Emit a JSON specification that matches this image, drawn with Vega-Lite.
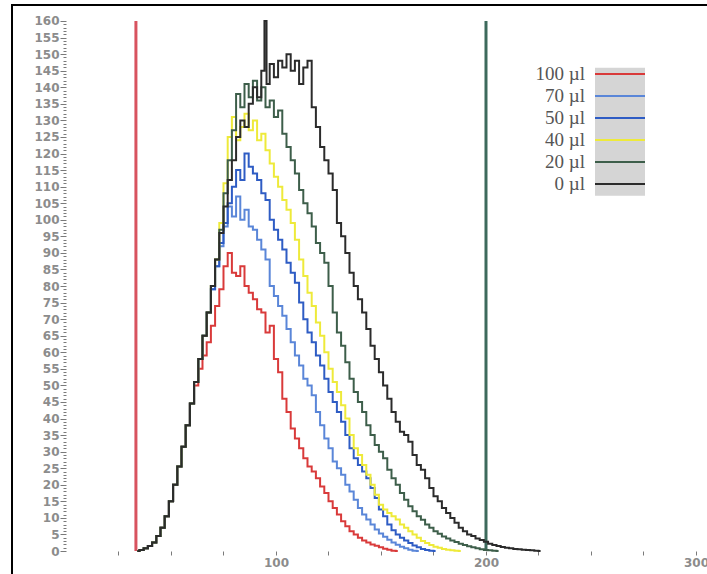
{
  "$schema": "https://vega.github.io/schema/vega-lite/v6.json",
  "width": 695,
  "height": 569,
  "autosize": {"type": "none"},
  "padding": {"left": 12, "top": 5, "right": 0, "bottom": 0},
  "background": "white",
  "config": {
    "view": {"stroke": "black", "strokeWidth": 2, "strokeDash": [695, 1264, 569]},
    "axis": {
      "labelFont": "DejaVu Sans",
      "labelFontWeight": "bold",
      "labelFontSize": 12,
      "labelColor": "#8c8c8c",
      "tickColor": "#7a7a7a",
      "domain": false,
      "grid": false
    }
  },
  "datasets": {
    "curves": [
      {"x": 34, "100 µl": 0, "70 µl": 0, "50 µl": 0, "40 µl": 0, "20 µl": 0, "0 µl": 0},
      {"x": 36, "100 µl": 0.3, "70 µl": 0.3, "50 µl": 0.3, "40 µl": 0.3, "20 µl": 0.3, "0 µl": 0.3},
      {"x": 38, "100 µl": 0.8, "70 µl": 0.8, "50 µl": 0.8, "40 µl": 0.8, "20 µl": 0.8, "0 µl": 0.8},
      {"x": 40, "100 µl": 1.5, "70 µl": 1.5, "50 µl": 1.5, "40 µl": 1.5, "20 µl": 1.5, "0 µl": 1.5},
      {"x": 42, "100 µl": 2.6, "70 µl": 2.6, "50 µl": 2.6, "40 µl": 2.6, "20 µl": 2.6, "0 µl": 2.6},
      {"x": 44, "100 µl": 4.5, "70 µl": 4.5, "50 µl": 4.5, "40 µl": 4.5, "20 µl": 4.5, "0 µl": 4.5},
      {"x": 46, "100 µl": 7, "70 µl": 7, "50 µl": 7, "40 µl": 7, "20 µl": 7, "0 µl": 7},
      {"x": 48, "100 µl": 10.5, "70 µl": 10.5, "50 µl": 10.5, "40 µl": 10.5, "20 µl": 10.5, "0 µl": 10.5},
      {"x": 50, "100 µl": 15, "70 µl": 15, "50 µl": 15, "40 µl": 15, "20 µl": 15, "0 µl": 15},
      {"x": 52, "100 µl": 20, "70 µl": 20, "50 µl": 20, "40 µl": 20, "20 µl": 20, "0 µl": 20},
      {"x": 54, "100 µl": 25.5, "70 µl": 25.5, "50 µl": 25.5, "40 µl": 25.5, "20 µl": 25.5, "0 µl": 25.5},
      {"x": 56, "100 µl": 31.5, "70 µl": 31.5, "50 µl": 31.5, "40 µl": 31.5, "20 µl": 31.5, "0 µl": 31.5},
      {"x": 58, "100 µl": 38, "70 µl": 38, "50 µl": 38, "40 µl": 38, "20 µl": 38, "0 µl": 38},
      {"x": 60, "100 µl": 44.5, "70 µl": 44.5, "50 µl": 44.5, "40 µl": 44.5, "20 µl": 44.5, "0 µl": 44.5},
      {"x": 62, "100 µl": 50, "70 µl": 51, "50 µl": 51, "40 µl": 51, "20 µl": 51, "0 µl": 51},
      {"x": 64, "100 µl": 55, "70 µl": 58, "50 µl": 58, "40 µl": 58, "20 µl": 58, "0 µl": 58},
      {"x": 66, "100 µl": 59, "70 µl": 65, "50 µl": 65, "40 µl": 65, "20 µl": 65, "0 µl": 65},
      {"x": 68, "100 µl": 63, "70 µl": 72, "50 µl": 72, "40 µl": 72, "20 µl": 72, "0 µl": 72},
      {"x": 70, "100 µl": 68, "70 µl": 79, "50 µl": 79, "40 µl": 80, "20 µl": 80, "0 µl": 80},
      {"x": 72, "100 µl": 74, "70 µl": 86, "50 µl": 86, "40 µl": 88, "20 µl": 88, "0 µl": 88},
      {"x": 74, "100 µl": 79, "70 µl": 92, "50 µl": 93, "40 µl": 99, "20 µl": 97, "0 µl": 96},
      {"x": 76, "100 µl": 86, "70 µl": 98, "50 µl": 99, "40 µl": 111, "20 µl": 108, "0 µl": 104},
      {"x": 78, "100 µl": 90, "70 µl": 104, "50 µl": 105, "40 µl": 125, "20 µl": 118, "0 µl": 112},
      {"x": 80, "100 µl": 84, "70 µl": 101, "50 µl": 110, "40 µl": 131, "20 µl": 127, "0 µl": 118},
      {"x": 82, "100 µl": 83, "70 µl": 107, "50 µl": 115, "40 µl": 124, "20 µl": 138, "0 µl": 125},
      {"x": 84, "100 µl": 86, "70 µl": 100, "50 µl": 112, "40 µl": 128, "20 µl": 134, "0 µl": 130},
      {"x": 86, "100 µl": 80, "70 µl": 103, "50 µl": 120, "40 µl": 132, "20 µl": 141, "0 µl": 128},
      {"x": 88, "100 µl": 78, "70 µl": 98, "50 µl": 116, "40 µl": 127, "20 µl": 137, "0 µl": 135},
      {"x": 90, "100 µl": 76, "70 µl": 97, "50 µl": 114, "40 µl": 130, "20 µl": 142, "0 µl": 140},
      {"x": 92, "100 µl": 73, "70 µl": 94, "50 µl": 112, "40 µl": 124, "20 µl": 136, "0 µl": 137},
      {"x": 94, "100 µl": 72, "70 µl": 91, "50 µl": 108, "40 µl": 126, "20 µl": 140, "0 µl": 145},
      {"x": 95, "0 µl": 160},
      {"x": 96, "100 µl": 66, "70 µl": 88, "50 µl": 106, "40 µl": 121, "20 µl": 134, "0 µl": 141},
      {"x": 98, "100 µl": 68, "70 µl": 80, "50 µl": 100, "40 µl": 117, "20 µl": 136, "0 µl": 147},
      {"x": 100, "100 µl": 58, "70 µl": 77, "50 µl": 97, "40 µl": 113, "20 µl": 131, "0 µl": 143},
      {"x": 102, "100 µl": 54, "70 µl": 74, "50 µl": 94, "40 µl": 110, "20 µl": 133, "0 µl": 148},
      {"x": 104, "100 µl": 46, "70 µl": 71, "50 µl": 91, "40 µl": 106, "20 µl": 126, "0 µl": 146},
      {"x": 106, "100 µl": 42, "70 µl": 67, "50 µl": 87, "40 µl": 103, "20 µl": 122, "0 µl": 150},
      {"x": 108, "100 µl": 37, "70 µl": 63, "50 µl": 84, "40 µl": 99, "20 µl": 118, "0 µl": 145},
      {"x": 110, "100 µl": 34, "70 µl": 59, "50 µl": 81, "40 µl": 94, "20 µl": 114, "0 µl": 148},
      {"x": 112, "100 µl": 31, "70 µl": 56, "50 µl": 75, "40 µl": 88, "20 µl": 109, "0 µl": 141},
      {"x": 114, "100 µl": 28, "70 µl": 52, "50 µl": 70, "40 µl": 83, "20 µl": 105, "0 µl": 146},
      {"x": 116, "100 µl": 25.5, "70 µl": 50, "50 µl": 66, "40 µl": 78, "20 µl": 102, "0 µl": 148},
      {"x": 118, "100 µl": 24, "70 µl": 47, "50 µl": 63, "40 µl": 74, "20 µl": 98, "0 µl": 134},
      {"x": 120, "100 µl": 22, "70 µl": 42, "50 µl": 59, "40 µl": 69, "20 µl": 93, "0 µl": 128},
      {"x": 122, "100 µl": 19.5, "70 µl": 38, "50 µl": 56, "40 µl": 65, "20 µl": 90, "0 µl": 122},
      {"x": 124, "100 µl": 17.5, "70 µl": 34, "50 µl": 52, "40 µl": 60, "20 µl": 87, "0 µl": 118},
      {"x": 126, "100 µl": 15, "70 µl": 31, "50 µl": 48, "40 µl": 55, "20 µl": 80, "0 µl": 114},
      {"x": 128, "100 µl": 13, "70 µl": 27, "50 µl": 45, "40 µl": 51, "20 µl": 72, "0 µl": 109},
      {"x": 130, "100 µl": 11, "70 µl": 25, "50 µl": 42, "40 µl": 48, "20 µl": 66, "0 µl": 99},
      {"x": 132, "100 µl": 9, "70 µl": 23, "50 µl": 39, "40 µl": 44, "20 µl": 62, "0 µl": 95},
      {"x": 134, "100 µl": 7.5, "70 µl": 20, "50 µl": 35, "40 µl": 40, "20 µl": 57, "0 µl": 90},
      {"x": 136, "100 µl": 6, "70 µl": 18, "50 µl": 31, "40 µl": 35, "20 µl": 52, "0 µl": 84},
      {"x": 138, "100 µl": 5, "70 µl": 15.5, "50 µl": 28, "40 µl": 31, "20 µl": 48, "0 µl": 80},
      {"x": 140, "100 µl": 4, "70 µl": 13, "50 µl": 26, "40 µl": 29, "20 µl": 45, "0 µl": 76},
      {"x": 142, "100 µl": 3.2, "70 µl": 11, "50 µl": 24, "40 µl": 26, "20 µl": 42, "0 µl": 72},
      {"x": 144, "100 µl": 2.6, "70 µl": 9.5, "50 µl": 22, "40 µl": 23, "20 µl": 38, "0 µl": 67},
      {"x": 146, "100 µl": 2, "70 µl": 8, "50 µl": 19, "40 µl": 20, "20 µl": 35, "0 µl": 62},
      {"x": 148, "100 µl": 1.6, "70 µl": 6.5, "50 µl": 16, "40 µl": 17, "20 µl": 32, "0 µl": 58},
      {"x": 150, "100 µl": 1.1, "70 µl": 5.3, "50 µl": 12.5, "40 µl": 14, "20 µl": 30, "0 µl": 54},
      {"x": 152, "100 µl": 0.7, "70 µl": 4.3, "50 µl": 10.5, "40 µl": 12.5, "20 µl": 28, "0 µl": 50},
      {"x": 154, "100 µl": 0.4, "70 µl": 3.4, "50 µl": 8, "40 µl": 11.5, "20 µl": 24.5, "0 µl": 46},
      {"x": 156, "100 µl": 0.1, "70 µl": 2.6, "50 µl": 6.3, "40 µl": 10.5, "20 µl": 22, "0 µl": 42},
      {"x": 158, "100 µl": 0, "70 µl": 1.9, "50 µl": 5, "40 µl": 9.5, "20 µl": 20, "0 µl": 39},
      {"x": 160, "70 µl": 1.3, "50 µl": 4, "40 µl": 8, "20 µl": 17.5, "0 µl": 36},
      {"x": 162, "70 µl": 0.8, "50 µl": 3.2, "40 µl": 7, "20 µl": 15.5, "0 µl": 35},
      {"x": 164, "70 µl": 0.4, "50 µl": 2.4, "40 µl": 6, "20 µl": 13.5, "0 µl": 33},
      {"x": 166, "70 µl": 0.1, "50 µl": 1.7, "40 µl": 5, "20 µl": 12, "0 µl": 29},
      {"x": 168, "70 µl": 0, "50 µl": 1.1, "40 µl": 4, "20 µl": 10.5, "0 µl": 26},
      {"x": 170, "50 µl": 0.6, "40 µl": 3, "20 µl": 9.4, "0 µl": 24.5},
      {"x": 172, "50 µl": 0.3, "40 µl": 2.4, "20 µl": 8, "0 µl": 22},
      {"x": 174, "50 µl": 0.1, "40 µl": 1.8, "20 µl": 7, "0 µl": 19},
      {"x": 176, "50 µl": 0, "40 µl": 1.3, "20 µl": 6, "0 µl": 16.5},
      {"x": 178, "40 µl": 1, "20 µl": 5.2, "0 µl": 15},
      {"x": 180, "40 µl": 0.6, "20 µl": 4.4, "0 µl": 13},
      {"x": 182, "40 µl": 0.4, "20 µl": 3.8, "0 µl": 11.5},
      {"x": 184, "40 µl": 0.2, "20 µl": 3.2, "0 µl": 10},
      {"x": 186, "40 µl": 0.1, "20 µl": 2.7, "0 µl": 8.5},
      {"x": 188, "40 µl": 0, "20 µl": 2.2, "0 µl": 7},
      {"x": 190, "20 µl": 1.8, "0 µl": 6},
      {"x": 192, "20 µl": 1.4, "0 µl": 5},
      {"x": 194, "20 µl": 1.1, "0 µl": 4.5},
      {"x": 196, "20 µl": 0.8, "0 µl": 3.8},
      {"x": 198, "20 µl": 0.5, "0 µl": 3.3},
      {"x": 200, "20 µl": 0.3, "0 µl": 2.8},
      {"x": 202, "20 µl": 0.2, "0 µl": 2.2},
      {"x": 204, "20 µl": 0.1, "0 µl": 1.8},
      {"x": 206, "20 µl": 0, "0 µl": 1.5},
      {"x": 208, "0 µl": 1.2},
      {"x": 210, "0 µl": 1},
      {"x": 212, "0 µl": 0.8},
      {"x": 214, "0 µl": 0.6},
      {"x": 216, "0 µl": 0.5},
      {"x": 218, "0 µl": 0.4},
      {"x": 220, "0 µl": 0.3},
      {"x": 222, "0 µl": 0.2},
      {"x": 224, "0 µl": 0.1},
      {"x": 226, "0 µl": 0}
    ]
  },
  "layer": [
    {
      "mark": {"type": "rule", "color": "#8f8f8f", "strokeWidth": 1.5},
      "encoding": {
        "y": {"datum": 160, "scale": {"domain": [-6.94, 164.83], "nice": false, "zero": false}, "axis": {"title": null}},
        "x": {"datum": 0, "scale": {"domain": [-25.71, 305.24], "nice": false, "zero": false}, "axis": {"title": null}},
        "x2": {"datum": 305.24}
      }
    },
    {
      "data": {"values": [{"gate": 33.3}]},
      "mark": {"type": "rule", "color": "#d8535f", "strokeWidth": 3},
      "encoding": {
        "x": {"field": "gate", "type": "quantitative", "axis": {"title": null}},
        "y": {"datum": 0, "axis": {"title": null}},
        "y2": {"datum": 160}
      }
    },
    {
      "data": {"values": [{"gate": 200}]},
      "mark": {"type": "rule", "color": "#3d6a5c", "strokeWidth": 3},
      "encoding": {
        "x": {"field": "gate", "type": "quantitative", "axis": {"title": null}},
        "y": {"datum": 0, "axis": {"title": null}},
        "y2": {"datum": 160}
      }
    },
    {
      "data": {"name": "curves"},
      "transform": [
        {"fold": ["100 µl", "70 µl", "50 µl", "40 µl", "20 µl", "0 µl"], "as": ["series", "count"]},
        {"filter": {"field": "count", "valid": true}}
      ],
      "mark": {"type": "line", "interpolate": "step"},
      "encoding": {
        "x": {
          "field": "x",
          "type": "quantitative",
          "axis": {
            "title": null,
            "orient": "bottom",
            "offset": -23,
            "values": [25, 50, 75, 100, 125, 150, 175, 200, 225, 250, 275, 300],
            "tickCount": 50,
            "tickSize": 4,
            "format": "d",
            "labelExpr": "datum.value % 100 === 0 ? datum.label : ''",
            "labelPadding": 2,
            "labelOverlap": false,
            "labelBound": false,
            "labelFlush": false
          }
        },
        "y": {
          "field": "count",
          "type": "quantitative",
          "axis": {
            "title": null,
            "orient": "left",
            "offset": -54,
            "values": [0,1,2,3,4,5,6,7,8,9,10,11,12,13,14,15,16,17,18,19,20,21,22,23,24,25,26,27,28,29,30,31,32,33,34,35,36,37,38,39,40,41,42,43,44,45,46,47,48,49,50,51,52,53,54,55,56,57,58,59,60,61,62,63,64,65,66,67,68,69,70,71,72,73,74,75,76,77,78,79,80,81,82,83,84,85,86,87,88,89,90,91,92,93,94,95,96,97,98,99,100,101,102,103,104,105,106,107,108,109,110,111,112,113,114,115,116,117,118,119,120,121,122,123,124,125,126,127,128,129,130,131,132,133,134,135,136,137,138,139,140,141,142,143,144,145,146,147,148,149,150,151,152,153,154,155,156,157,158,159,160],
            "tickCount": 400,
            "format": "d",
            "tickSize": {"condition": {"test": "datum.value % 5 === 0", "value": 6}, "value": 3},
            "labelExpr": "datum.value % 5 === 0 ? datum.label : ''",
            "labelPadding": 1,
            "labelOverlap": false,
            "labelBound": false,
            "labelFlush": false
          }
        },
        "color": {
          "field": "series",
          "type": "nominal",
          "scale": {
            "domain": ["100 µl", "70 µl", "50 µl", "40 µl", "20 µl", "0 µl"],
            "range": ["#d93a3a", "#5a86d8", "#2e5cc4", "#eeea3a", "#3d5e4a", "#2b2b2b"]
          },
          "legend": {
            "orient": "none",
            "legendX": 597,
            "legendY": 58,
            "title": null,
            "symbolType": "M-2.5,0H2.5",
            "symbolSize": 400,
            "symbolStrokeWidth": 2,
            "rowPadding": 1,
            "padding": 0,
            "labelOffset": -46,
            "labelAlign": "right",
            "labelBaseline": "middle",
            "labelFont": "Liberation Serif",
            "labelFontSize": 19,
            "labelColor": "#555555",
            "zindex": 2
          }
        },
        "strokeDash": {
          "field": "series",
          "type": "nominal",
          "scale": {
            "domain": ["0 µl", "20 µl", "40 µl", "50 µl", "70 µl", "100 µl"],
            "range": [[1, 0], [1, 0], [1, 0], [1, 0], [1, 0], [1, 0]]
          },
          "legend": {
            "orient": "none",
            "legendX": 583,
            "legendY": 62.7,
            "title": null,
            "values": ["0 µl"],
            "symbolType": "M-1,-1H4V11.8H-1Z",
            "symbolSize": 400,
            "symbolStrokeWidth": 0,
            "symbolFillColor": "#d5d5d5",
            "padding": 0,
            "labelOpacity": 0,
            "zindex": 1
          }
        }
      }
    },
    {
      "mark": {"type": "rule", "color": "#555555", "strokeWidth": 2},
      "encoding": {
        "x": {"datum": 0, "axis": {"title": null}},
        "y": {"datum": 0, "axis": {"title": null}},
        "y2": {"datum": 160}
      }
    },
    {
      "mark": {"type": "rule", "color": "#4a4a4a", "strokeWidth": 2},
      "encoding": {
        "y": {"datum": 0, "axis": {"title": null}},
        "x": {"datum": 0, "axis": {"title": null}},
        "x2": {"datum": 305.24}
      }
    }
  ]
}
